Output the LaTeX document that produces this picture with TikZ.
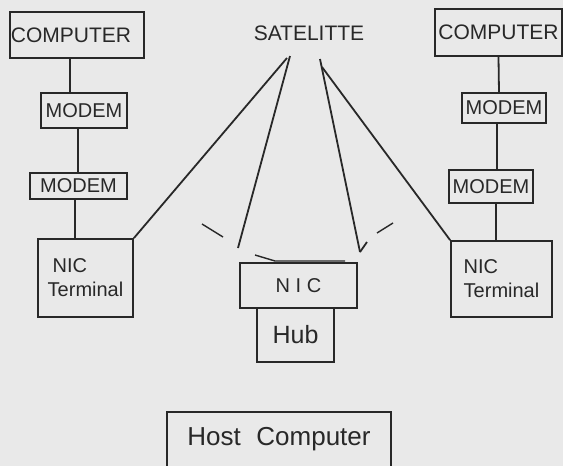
\documentclass[tikz,border=0pt]{standalone}
\usepackage{fontspec}
\setmainfont{Liberation Sans}
\usetikzlibrary{positioning}
\definecolor{ink}{RGB}{40,40,40}
\definecolor{paper}{RGB}{233,233,233}

\begin{document}
\begin{tikzpicture}[x=1pt,y=-1pt,line width=1.8pt]
\tikzstyle{box}=[draw=ink,text=ink,rectangle,inner sep=0pt]
\tikzstyle{word}=[text=ink,inner sep=0pt]
\tikzset{font=\fontsize{20pt}{24pt}\selectfont}

        \fill[paper] (0,0) rectangle (563,466);
        \useasboundingbox (0,0) rectangle (563,466);

        % left branch
        \node[box,minimum width=134pt,minimum height=46pt,font=\fontsize{21pt}{25pt}\selectfont] (lcomp) at (77,35) {COMPUTER\hspace*{12pt}};
        \node[box,minimum width=86pt,minimum height=35pt]    (lmodemA) at (84,110.5)   {MODEM};
        \node[box,minimum width=97pt,minimum height=26pt]    (lmodemB) at (78.5,186)   {MODEM};
        \node[box,minimum width=95pt,minimum height=78pt,align=left] (lterm) at (85.5,278) {\hspace*{5pt}NIC\\Terminal};

        % right branch
        \node[box,minimum width=127pt,minimum height=47pt,font=\fontsize{21pt}{25pt}\selectfont] (rcomp) at (498.5,32.5) {COMPUTER};
        \node[box,minimum width=84pt,minimum height=30pt]    (rmodemA) at (504,108)    {MODEM};
        \node[box,minimum width=84pt,minimum height=33pt]    (rmodemB) at (491,186.5)  {MODEM};
        \node[box,minimum width=101pt,minimum height=76pt,align=left] (rterm) at (501.5,279) {NIC\\Terminal};

        % middle
        \node[word,font=\fontsize{21pt}{25pt}\selectfont]    (sat)     at (309,33)     {SATELITTE};
        \node[box,minimum width=117pt,minimum height=45pt]   (nic)     at (298.5,285.5) {N I C};
        \node[box,minimum width=77pt,minimum height=54pt,font=\fontsize{25pt}{30pt}\selectfont] (hub) at (295.5,335) {Hub};
        \node[box,anchor=north,minimum width=224pt,inner ysep=15pt,text depth=40pt,font=\fontsize{26pt}{31pt}\selectfont] (host) at (279,411) {Host\hspace{0.6em}Computer};

        \coordinate (sa) at (287,58);
        \coordinate (sb) at (290,56);
        \coordinate (sc) at (320,59);
        \coordinate (sd) at (322,67);
        \coordinate (nicL) at (238,248);
        \coordinate (nicR) at (360,252);

        \path[draw=ink]
        ([xshift=-7pt]lcomp.south)   edge ([xshift=-14pt]lmodemA.north)
        ([xshift=-6pt]lmodemA.south) edge ([xshift=-6pt]lmodemA.south |- lmodemB.north)
        ([xshift=-3.5pt]lmodemB.south) edge ([xshift=-10.5pt]lterm.north)
        (rcomp.south)                edge ([xshift=-5pt]rmodemA.north)
        ([xshift=-7pt]rmodemA.south) edge ([xshift=6pt]rmodemB.north)
        ([xshift=5pt]rmodemB.south)  edge ([xshift=-5.5pt]rterm.north)
        (sa) edge (lterm.north east)
        (sb) edge (nicL)
        (sc) edge (nicR)
        (sd) edge (rterm.north west)
        ; %end path

        % broken tips
        \draw[ink] (nicR) -- ++(7,-10);
        \draw[ink,line width=1.4pt] (202,224) -- (223,237);
        \draw[ink,line width=1.4pt] (255,255) -- (275,261) -- (345,261);
        \draw[ink,line width=1.4pt] (377,233) -- (393,223);

\end{tikzpicture}
\end{document}
